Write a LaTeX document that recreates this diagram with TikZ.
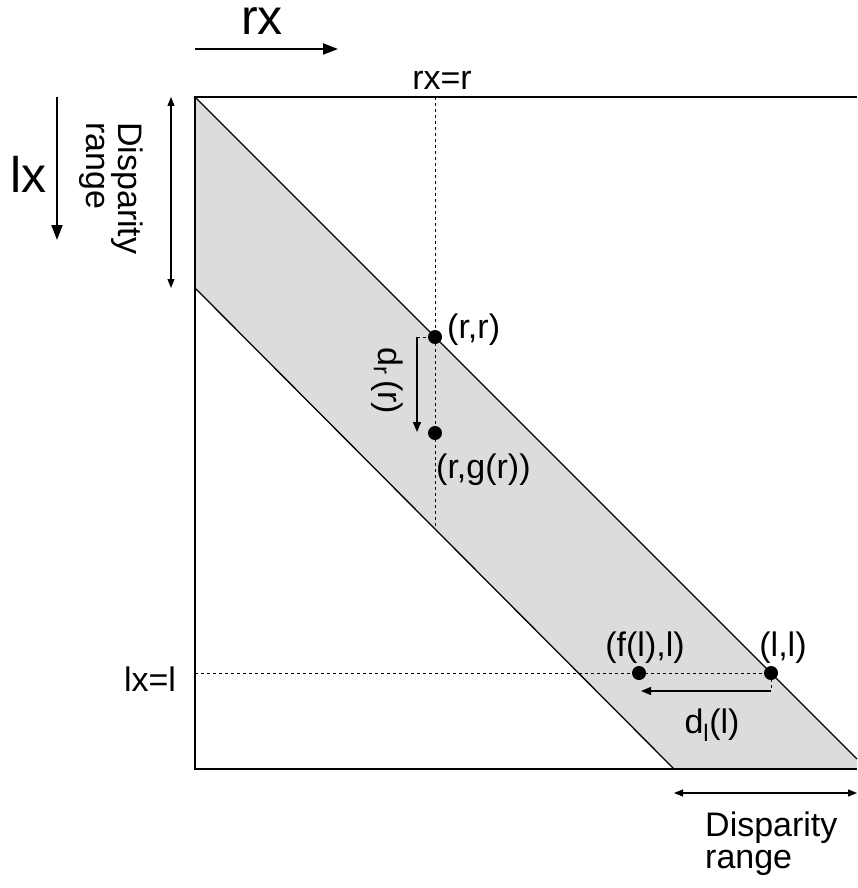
\documentclass[tikz,border=0pt]{standalone}
\usepackage{fontspec}
\setmainfont{Liberation Sans}
\usetikzlibrary{arrows.meta}
\definecolor{band}{RGB}{220,220,220}
\begin{document}
\begin{tikzpicture}[x=1pt,y=-1pt,
  box/.style={line width=1.6pt},
  diag/.style={line width=1.3pt},
  guide/.style={line width=1pt, dash pattern=on 3pt off 3pt},
  dot/.style={circle, fill=black, inner sep=0pt, minimum size=14pt},
  lbl/.style={font=\fontsize{34}{32}\selectfont, inner sep=0pt},
  big/.style={font=\fontsize{50}{54}\selectfont, inner sep=0pt},
  axisarrow/.style={line width=2pt, -{Triangle[length=15pt,width=11pt]}},
  dimarrow/.style={line width=1.3pt, {Triangle[length=9pt,width=7pt]}-{Triangle[length=9pt,width=7pt]}},
  measarrow/.style={line width=1.3pt, -{Triangle[length=10pt,width=8pt]}},
]
\useasboundingbox (0,0) rectangle (857,888);
% frame corners
\coordinate (TL) at (195,97);
\coordinate (TR) at (857,97);
\coordinate (BL) at (195,769);
\coordinate (BR) at (857,769);
\coordinate (UE) at (857,759);
\coordinate (LS) at (195,288);
\coordinate (LE) at (674,769);
% band
\fill[band] (TL) -- (UE) -- (BR) -- (LE) -- (LS) -- cycle;
\draw[box] (TR) -- (TL) -- (BL) -- (BR);
\draw[diag] (TL) -- (UE);
\draw[diag] (LS) -- (LE);
% guides
\coordinate (VT) at (435,97);
\coordinate (VB) at (435,528);
\coordinate (HL) at (195,673);
\draw[guide] (VT) -- (VB);
% points
\node[dot] (rr) at (435,337) {};
\node[dot] (rg) at (435,433) {};
\node[dot] (fl) at (639,673) {};
\node[dot] (ll) at (771,673) {};
\draw[guide] (HL) -- (ll.center);
% labels of points
\node[lbl, anchor=base west] (rrl) at (447,338) {(r,r)};
\node[lbl, anchor=base west] (rgl) at (436,478) {(r,g(r))};
\node[lbl, anchor=base] (fll) at (645,656) {(f(l),l)};
\node[lbl, anchor=base] (lll) at (783,656) {(l,l)};
\node[lbl, anchor=base] (rxr) at (442,90) {rx=r};
\node[lbl, anchor=base] (lxl) at (150,691) {lx=l};
% d_r
\coordinate (drT) at (417,337);
\coordinate (drB) at (417,432);
\draw[guide] (drT) -- (rr.center);
\draw[measarrow] (drT) -- (drB);
\node[lbl, rotate=-90] (drl) at (387,381) {d\textsubscript{r}\kern5pt(r)};
% d_l
\coordinate (dlR) at (771,691);
\coordinate (dlL) at (641,691);
\draw[guide] (ll.center) -- (dlR);
\draw[measarrow] (dlR) -- (dlL);
\node[lbl, anchor=base] (dll) at (712,733) {d\textsubscript{l}(l)};
% axes
\coordinate (rxA) at (195,49);
\coordinate (rxB) at (338,49);
\draw[axisarrow] (rxA) -- (rxB);
\node[big, anchor=base west] (rx) at (241,35) {rx};
\coordinate (lxA) at (57,97);
\coordinate (lxB) at (57,240);
\draw[axisarrow] (lxA) -- (lxB);
\node[big, anchor=base west] (lx) at (10,192) {lx};
% disparity ranges
\coordinate (dvA) at (171,97);
\coordinate (dvB) at (171,288);
\draw[dimarrow] (dvA) -- (dvB);
\node[lbl, rotate=-90, align=left, anchor=north west] (dvl) at (143,122) {Disparity\\range};
\coordinate (dhA) at (674,793);
\coordinate (dhB) at (857,793);
\draw[dimarrow] (dhA) -- (dhB);
\node[lbl, align=left, anchor=north west] (dhl) at (705,812) {Disparity\\range};
\end{tikzpicture}
\end{document}
